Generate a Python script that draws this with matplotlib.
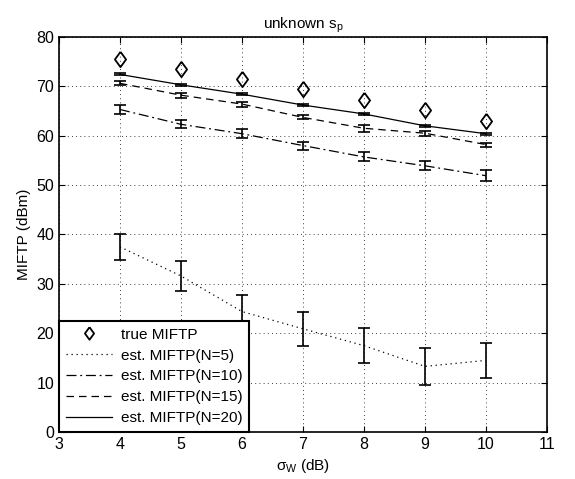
import matplotlib.pyplot as plt
from matplotlib.lines import Line2D
import numpy as np

plt.rcParams['font.family'] = ['Liberation Sans', 'DejaVu Sans']

sigma = np.array([4, 5, 6, 7, 8, 9, 10])
true_miftp = [75.5, 73.5, 71.5, 69.5, 67.3, 65.2, 63.0]
n5 = [37.5, 31.6, 24.4, 20.9, 17.5, 13.3, 14.5]
n5_err = [2.6, 3.0, 3.4, 3.4, 3.5, 3.7, 3.5]
n10 = [65.3, 62.3, 60.4, 58.0, 55.7, 53.9, 51.9]
n10_err = [0.9, 0.8, 0.9, 0.8, 0.9, 0.9, 1.1]
n15 = [70.6, 68.2, 66.4, 63.7, 61.5, 60.5, 58.2]
n15_err = [0.4, 0.5, 0.5, 0.4, 0.7, 0.5, 0.4]
n20 = [72.4, 70.3, 68.4, 66.2, 64.4, 62.0, 60.4]
n20_err = [0.2, 0.2, 0.2, 0.2, 0.2, 0.2, 0.2]

diamond = [(0, 1), (0.73, 0), (0, -1), (-0.73, 0), (0, 1)]
styles = {
    'n5': (0, (1, 3)),
    'n10': (0, (8, 3, 1.5, 3)),
    'n15': (0, (6, 4)),
    'n20': '-',
}

fig = plt.figure(figsize=(5.75, 4.79), dpi=100)
ax = fig.add_axes([0.1026, 0.098, 0.8484, 0.825])

ax.plot(sigma, true_miftp, linestyle='none', marker=diamond, markersize=11,
        markerfacecolor='none', markeredgecolor='k', markeredgewidth=1.3)
kw = dict(color='k', capsize=4, elinewidth=1.2, capthick=1.2, linewidth=0.9)
ax.errorbar(sigma, n5, yerr=n5_err, linestyle=styles['n5'], **kw)
ax.errorbar(sigma, n10, yerr=n10_err, linestyle=styles['n10'], **kw)
ax.errorbar(sigma, n15, yerr=n15_err, linestyle=styles['n15'], **kw)
ax.errorbar(sigma, n20, yerr=n20_err, linestyle=styles['n20'], **kw)

ax.set_xlim(3, 11)
ax.set_ylim(0, 80)
ax.set_xticks(range(3, 12))
ax.set_yticks(range(0, 81, 10))
ax.grid(True, linestyle=(0, (1, 4)), color='k', linewidth=0.6)
ax.tick_params(direction='in', top=True, right=True, labelsize=11.5, length=4)
for s in ax.spines.values():
    s.set_linewidth(1.2)

ax.set_title('unknown s$_\\mathregular{p}$', fontsize=11)
ax.set_xlabel('$\\mathregular{\\sigma_W}$ (dB)', fontsize=11)
ax.set_ylabel('MIFTP (dBm)', fontsize=11)

handles = [
    Line2D([], [], linestyle='none', marker=diamond, markersize=9,
           markerfacecolor='none', markeredgecolor='k', markeredgewidth=1.3),
    Line2D([], [], color='k', linewidth=0.9, linestyle=styles['n5']),
    Line2D([], [], color='k', linewidth=0.9, linestyle=styles['n10']),
    Line2D([], [], color='k', linewidth=0.9, linestyle=styles['n15']),
    Line2D([], [], color='k', linewidth=0.9, linestyle=styles['n20']),
]
labels = ['true MIFTP', 'est. MIFTP(N=5)', 'est. MIFTP(N=10)',
          'est. MIFTP(N=15)', 'est. MIFTP(N=20)']
leg = ax.legend(handles, labels, loc='lower left', borderaxespad=0, fancybox=False,
                fontsize=11, edgecolor='k', framealpha=1, handlelength=3.0,
                labelspacing=0.45, borderpad=0.45, handletextpad=0.6)
leg.get_frame().set_linewidth(1.5)

fig.savefig('out.png', dpi=100)
